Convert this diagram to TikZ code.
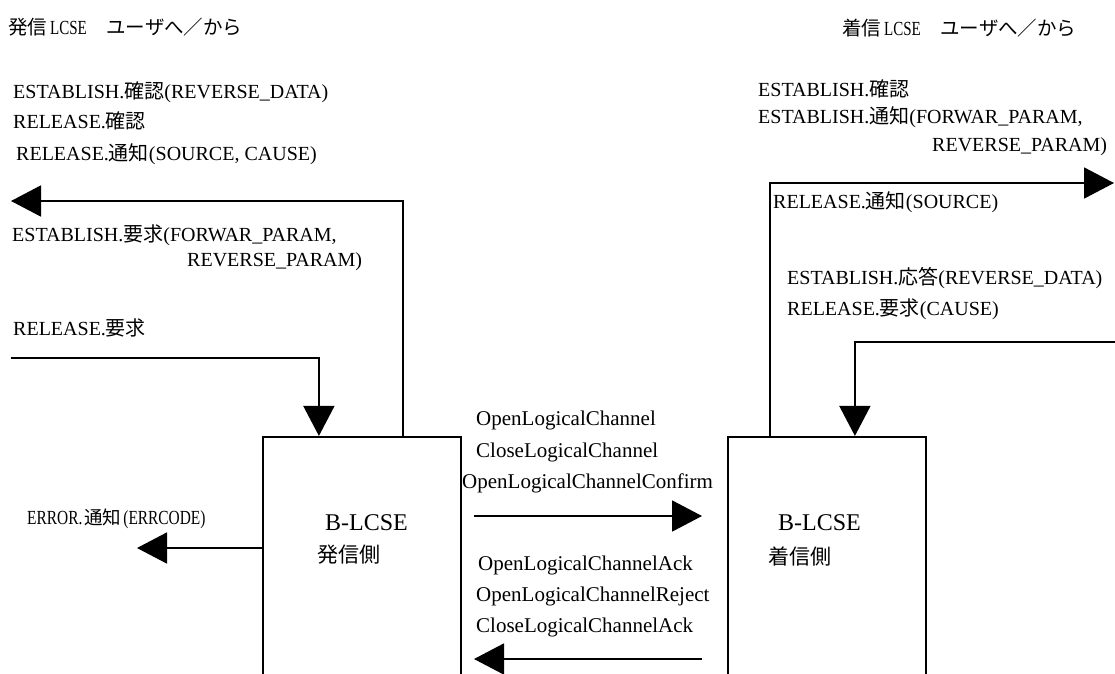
\documentclass[tikz,border=0pt]{standalone}
\usepackage{fontspec}
\setmainfont{Liberation Serif}
\newfontfamily\jp{Noto Sans CJK JP}
\newfontfamily\errlat{Liberation Serif}[FakeStretch=0.77]
\newfontfamily\ttllat{Liberation Serif}[FakeStretch=0.75]
\usetikzlibrary{arrows.meta}

\tikzset{
  lbl/.style={anchor=west, inner sep=0pt, font=\fontsize{20}{23}\selectfont},
  msg/.style={anchor=west, inner sep=0pt, font=\fontsize{21}{24}\selectfont},
  ttl/.style={anchor=west, inner sep=0pt, font=\ttllat\fontsize{20}{23}\selectfont},
  lcse/.style={draw, line width=2.2pt, minimum width=198pt, minimum height=246pt, inner sep=0pt},
  boxname/.style={anchor=west, inner sep=0pt, font=\fontsize{24}{28}\selectfont},
  boxside/.style={anchor=west, inner sep=0pt, font=\jp\fontsize{21}{24}\selectfont},
  arr/.style={line width=1.8pt, -{Triangle[length=30pt,width=31pt]}},
}
\newcommand{\cj}[1]{{\jp\fontsize{20}{22}\selectfont #1}}
\newcommand{\tj}[1]{{\jp\fontsize{19.5}{22}\selectfont #1}}

\begin{document}
\begin{tikzpicture}[x=1pt, y=-1pt]
\clip (0,0) rectangle (1115,673);
\fill[white] (0,0) rectangle (1115,673);

% column headings
\node[ttl] (hsrc) at (8,27) {\tj{発信}\hspace{3pt}LCSE\tj{　ユーザへ／から}};
\node[ttl] (hdst) at (842,28) {\tj{着信}\hspace{3pt}LCSE\tj{　ユーザへ／から}};

% the two B-LCSE entities (bottom edge runs off the page)
\node[lcse] (src) at (362,560) {};
\node[lcse] (dst) at (827,560) {};
\node[boxname] (srcname) at (325,523) {B-LCSE};
\node[boxside] (srcside) at (317,555) {発信側};
\node[boxname] (dstname) at (778,523) {B-LCSE};
\node[boxside] (dstside) at (768,556) {着信側};

% primitives on the calling side
\node[lbl] (p1) at (13,92) {ESTABLISH.\cj{確認}(REVERSE\_DATA)};
\node[lbl] (p2) at (13,121) {RELEASE.\cj{確認}};
\node[lbl] (p3) at (16,154) {RELEASE.\cj{通知}(SOURCE, CAUSE)};
\node[lbl] (p4) at (12,235) {ESTABLISH.\cj{要求}(FORWAR\_PARAM,};
\node[lbl] (p5) at (187,262) {REVERSE\_PARAM)};
\node[lbl] (p6) at (13,328) {RELEASE.\cj{要求}};
\node[anchor=west, inner sep=0pt] (err) at (27,519)
  {\errlat\fontsize{20}{22}\selectfont ERROR.\hspace{2pt}{\jp\fontsize{18.5}{20}\selectfont 通知}\hspace{2pt}(ERRCODE)};

% primitives on the called side
\node[lbl] (q1) at (758,89) {ESTABLISH.\cj{確認}};
\node[lbl] (q2) at (758,117) {ESTABLISH.\cj{通知}(FORWAR\_PARAM,};
\node[lbl] (q3) at (932,147) {REVERSE\_PARAM)};
\node[lbl] (q4) at (773,202) {RELEASE.\cj{通知}(SOURCE)};
\node[lbl] (q5) at (787,278) {ESTABLISH.\cj{応答}(REVERSE\_DATA)};
\node[lbl] (q6) at (787,309) {RELEASE.\cj{要求}(CAUSE)};

% peer messages
\node[msg] (m1) at (476,420) {OpenLogicalChannel};
\node[msg] (m2) at (476,452) {CloseLogicalChannel};
\node[msg] (m3) at (462,483) {OpenLogicalChannelConfirm};
\node[msg] (m4) at (478,565) {OpenLogicalChannelAck};
\node[msg] (m5) at (476,596) {OpenLogicalChannelReject};
\node[msg] (m6) at (476,627) {CloseLogicalChannelAck};

% free ends of the connectors
\coordinate (srcin)  at (11,358);
\coordinate (srcout) at (11,201);
\coordinate (errtip) at (137,548);
\coordinate (fwdA) at (474,516);
\coordinate (fwdB) at (702,516);
\coordinate (bwdA) at (702,659);
\coordinate (bwdB) at (474,659);
\coordinate (dstout) at (1114,183);
\coordinate (dstin)  at (1120,342);

% connectors
\draw[arr] (srcin) -| ([xshift=57pt]src.north west);
\draw[arr] ([xshift=141pt]src.north west) |- (srcout);
\draw[arr] (src.west |- errtip) -- (errtip);
\draw[arr] (fwdA) -- (fwdB);
\draw[arr] (bwdA) -- (bwdB);
\draw[arr] ([xshift=43pt]dst.north west) |- (dstout);
\draw[arr] (dstin) -| ([xshift=128pt]dst.north west);
\end{tikzpicture}
\end{document}
